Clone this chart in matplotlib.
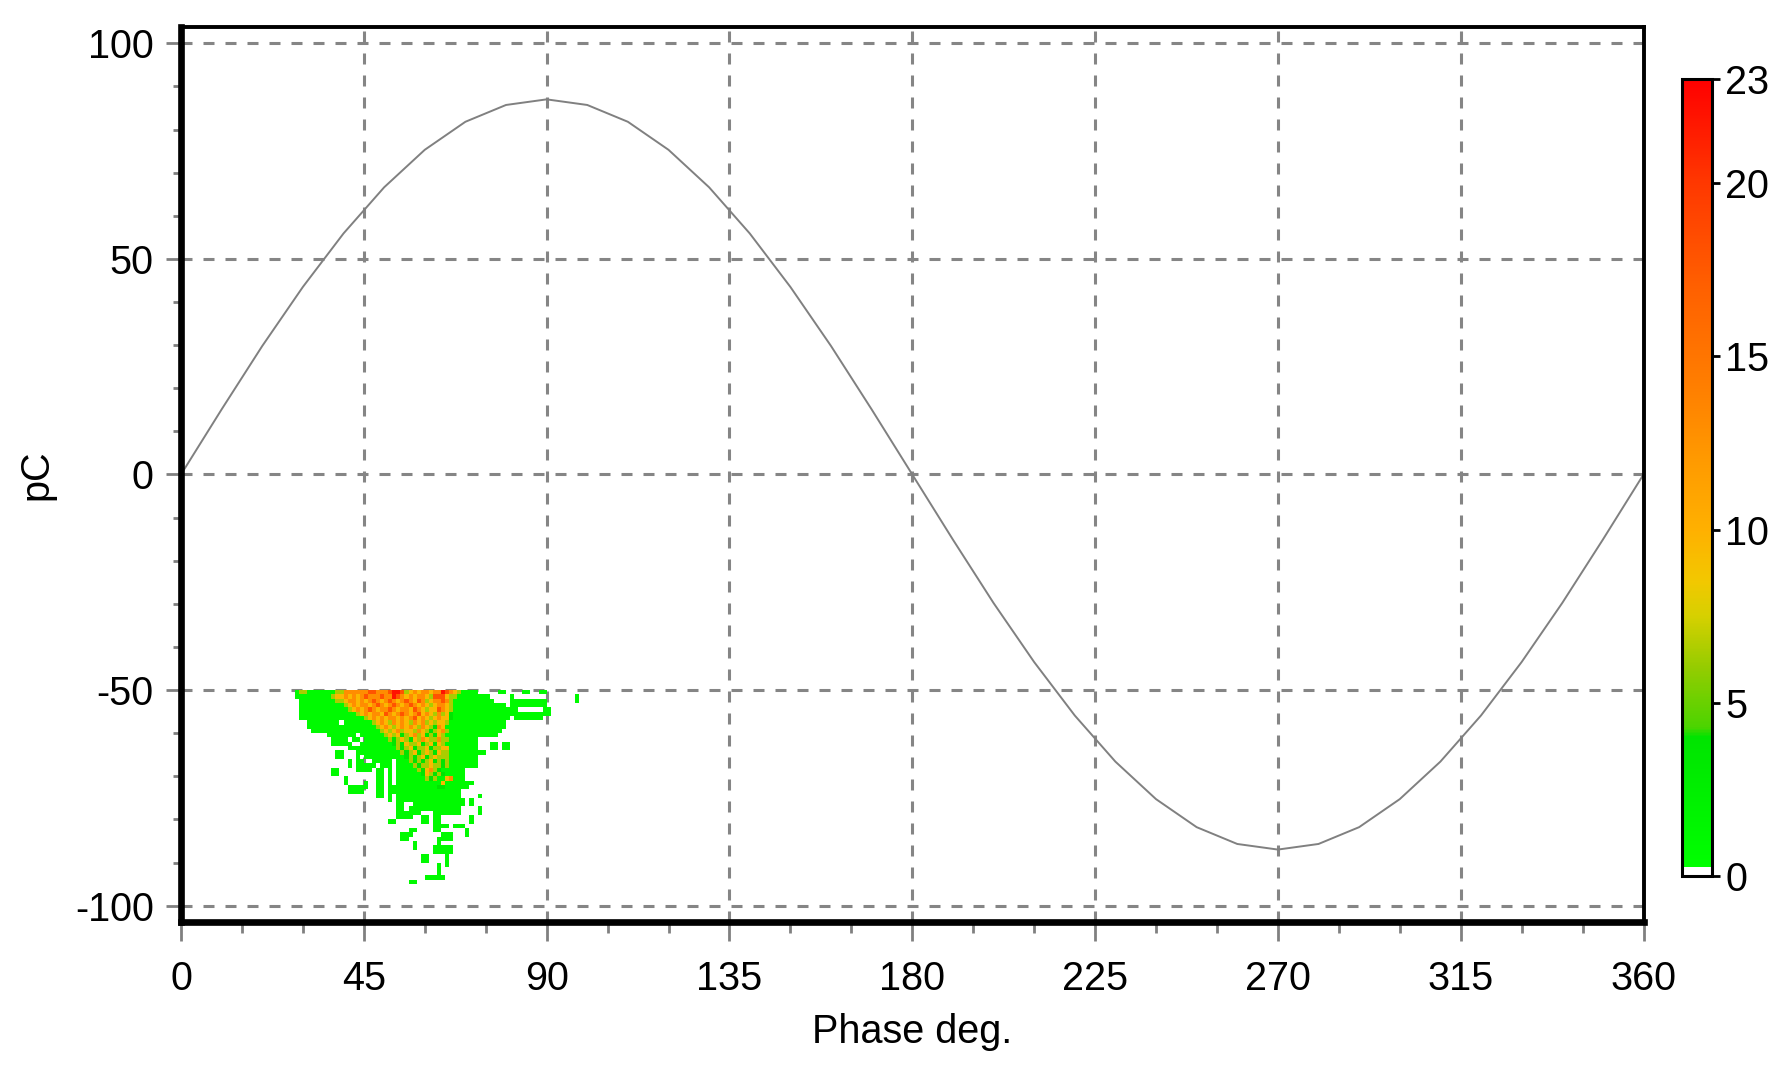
import numpy as np
import matplotlib.pyplot as plt
from matplotlib.colors import LinearSegmentedColormap

plt.rcParams['font.family'] = ['Liberation Sans', 'DejaVu Sans']
plt.rcParams['font.size'] = 28.5
plt.rcParams['axes.unicode_minus'] = False

# gray reference sine, read every 10 degrees
ref_phase = list(range(0, 361, 10))
ref_pc = [0, 15.1, 29.8, 43.5, 55.9, 66.6, 75.3, 81.8, 85.7, 87.0, 85.7, 81.8, 75.3, 66.6, 55.9, 43.5, 29.8, 15.1,
          0, -15.1, -29.8, -43.5, -55.9, -66.6, -75.3, -81.8, -85.7, -87.0, -85.7, -81.8, -75.3, -66.6, -55.9,
          -43.5, -29.8, -15.1, 0]

# PRPD hit counts.
# one row per 1 pC going down from -50 pC, one column per degree from 28 deg.
# each row: (first column, cells); '.' empty, g/G green, l lime, y yellow, o orange, r red-orange, R red
phase0 = 28
pc0 = -50
n_cols = 72
level = {'g': 1, 'G': 4, 'l': 6.5, 'y': 9.5, 'o': 13, 'r': 18, 'R': 22}
rows = [
    [(0, "g ll ggggggg ll oooooo rr ooo r RR r l y o y oo y oo R r o y l gggg"), (50, "gg"), (56, "gg"), (60, "gg")],
    [(0, "ggggggggg l yy o y o y o r ooo r oo R r o y o y oo y l rrr y ll gggggggg"), (53, "g"), (69, "g")],
    [(1, "ggggggggg ll y oo y o y o r o y o r o y o r o y r o l y oo r o l gggggggggg"), (53, "ggggggggg"), (69, "g")],
    [(1, "ggggggggggg l y o y o o y o r o y o r o y o r o y o y l y o o y l ggggggggggggg"), (53, "ggggggggg")],
    [(1, "gggggggggggg l y o y o r o y o o r o y o o y r o y l y y r o y l gggggggggggggggg"), (61, "gg")],
    [(1, "gggggggggggggg l y o y o o y r o y o r o y o r y o y l o l y G gggggggggggggggggggggggg")],
    [(1, "gggggggggggggggg l y o y o y o o y o y o r y o y l y o y y G gggggggggggggg"), (54, "ggggggg")],
    [(3, "gggggggg . ggggggg l y o y l o y o y l o y o l y l y y l gggggggggggggg")],
    [(3, "ggggggggggggggggg l y o y l y o y o y l o y l G o y ggggggggggggggg")],
    [(4, "ggggggggggggggggg l y l y o l y y l o y l G l y o l ggggggggggggg")],
    [(8, "ggggggg . gggggg l y l y G l y o l y G l G y l ggggggggggggg")],
    [(9, "gggg . gg . gggggg l G l y l G y l o y l l o l l ggggggg")],
    [(9, "ggggg .. gggggggg G l G y l l y G l y G y l gggggggg"), (48, "gg . gg")],
    [(13, "gggggggggggg l G l y G l l y G l l y y ggggggg"), (48, "gg . gg")],
    [(10, "gg"), (15, "ggggggggggg l G l y G l y l G y l l ggggggggg")],
    [(10, "gg"), (15, "g . gggggggggg G l G l y G l y l l l ggggggg")],
    [(13, "g . gg .. ggggg . ggg l G l G l y G l G l ggggggg")],
    [(13, "g . ggggg . ggg . gggg l G l l y l l G l ggggggg")],
    [(9, "gg"), (15, "gggg . gg . g . ggggg l G y o l G g ggggg")],
    [(9, "gg"), (20, "gg . g . gggggg G y l G l G ggggg")],
    [(12, "g"), (20, "gg . g . ggggggg l G l g g y o ggg")],
    [(12, "g"), (17, "g .. gg . g . ggggggggggg y ggggggg")],
    [(13, "gggg g .. gg . gggggggggggg GG gggggg")],
    [(13, "gggg"), (20, "gg . gggggggggggggggggg")],
    [(20, "gg . g . gggggggggggggggg"), (45, "g")],
    [(23, "g . ggggggggggggggggg . g")],
    [(25, "gg .. ggggggggggggg . g")],
    [(25, "gg . ggggggggggggg"), (45, "g")],
    [(25, "gggggg ... ggggggg"), (45, "g")],
    [(25, "gggg .. gg . gg"), (43, "g")],
    [(23, "gg"), (31, "gg . gg"), (43, "g")],
    [(34, "gggg . ggg")],
    [(28, "gg"), (34, "gg"), (42, "g")],
    [(26, "ggg"), (36, "ggg"), (42, "g")],
    [(26, "gg"), (35, "gggg")],
    [(29, "g"), (35, "g")],
    [(29, "g"), (34, "ggggg")],
    [(34, "ggggg")],
    [(31, "gg"), (37, "g")],
    [(31, "gg"), (37, "g")],
    [(35, "g . g")],
    [(35, "g")],
    [(35, "g")],
    [(32, "ggggg")],
    [(28, "gg")],
]

cbar_ticks = [0, 5, 10, 15, 20, 23]

counts = np.zeros((len(rows), n_cols))
for r, segs in enumerate(rows):
    for c0, pat in segs:
        for k, ch in enumerate(pat.replace(' ', '')):
            if ch in level:
                counts[r, c0 + k] = level[ch]

x_edges = phase0 + np.arange(n_cols + 1)
y_edges = pc0 - np.arange(len(rows) + 1)

cmap = LinearSegmentedColormap.from_list('prpd', [
    (0.0, 'white'), (0.011, 'white'), (0.011, '#00ff00'), (4.0 / 23, '#00e400'),
    (4.3 / 23, '#4cd400'), (6 / 23, '#94cc00'), (7.5 / 23, '#d6d000'), (8.5 / 23, '#f2c800'),
    (10 / 23, '#ffb000'), (12 / 23, '#ff9a00'), (14 / 23, '#ff8000'), (17 / 23, '#ff6000'),
    (20 / 23, '#ff3800'), (1.0, '#ff0000')], N=512)

fig = plt.figure(figsize=(17.84, 10.66), dpi=100)
ax = fig.add_axes([0.10146, 0.13508, 0.81979, 0.84006])
cax = fig.add_axes([0.94283, 0.17777, 0.01654, 0.74812])

ax.set_axisbelow(True)
ax.grid(True, which='major', color='#858585', linewidth=2.2, linestyle=(0, (3.6, 3.6)))

mesh = ax.pcolormesh(x_edges, y_edges, np.ma.masked_equal(counts, 0), cmap=cmap, vmin=0, vmax=23, zorder=1)
ax.plot(ref_phase, ref_pc, color='#808080', linewidth=1.4, zorder=2)

ax.set_xlim(0, 360)
ax.set_ylim(-103.8, 103.9)
ax.set_xticks(range(0, 361, 45))
ax.set_xticks(range(0, 361, 15), minor=True)
ax.set_yticks(range(-100, 101, 50))
ax.set_yticks(range(-100, 101, 10), minor=True)

ax.tick_params(axis='x', which='major', length=14, width=2, color='#808080', pad=13)
ax.tick_params(axis='x', which='minor', length=8, width=2, color='#808080')
ax.tick_params(axis='y', which='major', length=11, width=2, color='#808080', pad=8.6)
ax.tick_params(axis='y', which='minor', length=6, width=2, color='#808080')

for side in ['left', 'bottom']:
    ax.spines[side].set_linewidth(4.8)
for side in ['top', 'right']:
    ax.spines[side].set_linewidth(2.8)

ax.set_xlabel('Phase deg.')
ax.xaxis.set_label_coords(0.5, -0.1011)
ax.set_ylabel('pC', va='center')
ax.yaxis.set_label_coords(-0.0991, 0.5)

cb = fig.colorbar(mesh, cax=cax, ticks=cbar_ticks)
cb.outline.set_linewidth(2.2)
cb.ax.tick_params(length=6, width=2, pad=4, color='black')

fig.savefig('out.png', dpi=100)
